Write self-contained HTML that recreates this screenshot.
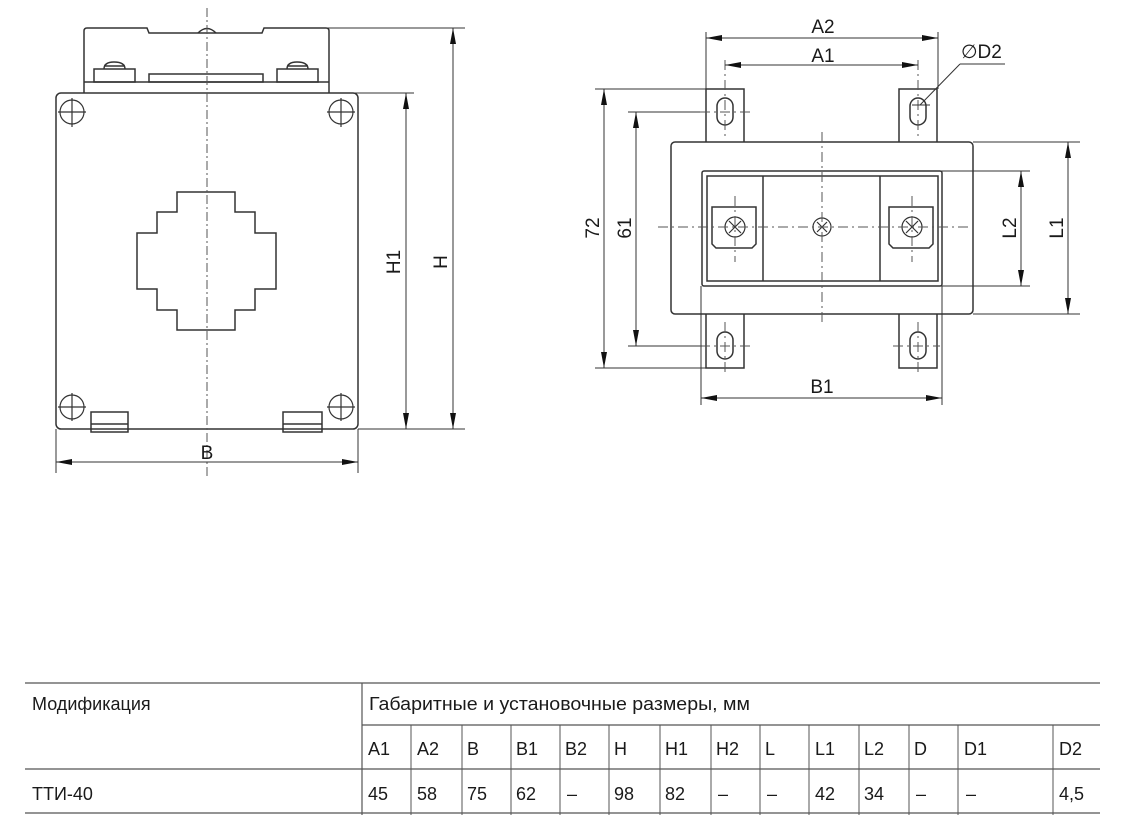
<!DOCTYPE html>
<html><head><meta charset="utf-8"><style>
html,body{margin:0;padding:0;background:#fff;}
svg{display:block;}
text{font-family:"Liberation Sans","DejaVu Sans",sans-serif;fill:#1a1a1a;}
</style></head><body>
<svg width="1123" height="835" viewBox="0 0 1123 835" xmlns="http://www.w3.org/2000/svg">
<defs>
<marker id="a" viewBox="0 0 16 6" refX="16" refY="3" markerWidth="16" markerHeight="6" markerUnits="userSpaceOnUse" orient="auto-start-reverse"><path d="M0,0 L16,3 L0,6 z" fill="#111"/></marker>
</defs>
<g fill="none" stroke="#333" stroke-width="1.5">
<!-- LEFT VIEW -->
<path d="M84,93 L84,31 Q84,28 87,28 L147,28 L149,33 L262,33 L264,28 L326,28 Q329,28 329,31 L329,93"/>
<line x1="84" y1="82" x2="329" y2="82"/>
<path d="M198,33 Q207,24 216,33"/>
<rect x="94" y="69" width="41" height="13"/>
<rect x="277" y="69" width="41" height="13"/>
<rect x="149" y="74" width="114" height="8"/>
<path d="M104,69 Q104,62 114,62 Q125,62 125,69 M104,66 L125,66"/>
<path d="M287,69 Q287,62 297,62 Q308,62 308,69 M287,66 L308,66"/>
<rect x="56" y="93" width="302" height="336" rx="5"/>
<path d="M177,192 H235 V212 H255 V233 H276 V289 H255 V310 H235 V330 H177 V310 H157 V289 H137 V233 H157 V212 H177 Z"/>
<rect x="91" y="412" width="37" height="20"/><line x1="91" y1="424" x2="128" y2="424"/>
<rect x="283" y="412" width="39" height="20"/><line x1="283" y1="424" x2="322" y2="424"/>
</g>
<g fill="none" stroke="#333" stroke-width="1.2">
<circle cx="72" cy="112" r="12"/><circle cx="341" cy="112" r="12"/><circle cx="72" cy="407" r="12"/><circle cx="341" cy="407" r="12"/>
<path d="M58,112 H86 M72,98 V127 M327,112 H355 M341,98 V127 M58,407 H86 M72,393 V421 M327,407 H355 M341,393 V421"/>
</g>
<line x1="207" y1="8" x2="207" y2="478" stroke="#555" stroke-width="1" stroke-dasharray="9,3,2,3"/>
<g stroke="#333" stroke-width="1" fill="none">
<line x1="323" y1="28" x2="465" y2="28"/>
<line x1="353" y1="93" x2="414" y2="93"/>
<line x1="358" y1="429" x2="465" y2="429"/>
<line x1="406" y1="93" x2="406" y2="429" marker-start="url(#a)" marker-end="url(#a)"/>
<line x1="453" y1="28" x2="453" y2="429" marker-start="url(#a)" marker-end="url(#a)"/>
<line x1="56" y1="429" x2="56" y2="473"/><line x1="358" y1="429" x2="358" y2="473"/>
<line x1="56" y1="462" x2="358" y2="462" marker-start="url(#a)" marker-end="url(#a)"/>
</g>
<text x="207" y="459" font-size="19" text-anchor="middle">B</text>
<text transform="translate(400,262) rotate(-90)" font-size="19" text-anchor="middle">H1</text>
<text transform="translate(447,262) rotate(-90)" font-size="19" text-anchor="middle">H</text>

<!-- RIGHT VIEW -->
<g fill="none" stroke="#333" stroke-width="1.5">
<path d="M706,142 V89 H744 V142 M899,142 V89 H937 V142"/>
<path d="M706,314 V368 H744 V314 M899,314 V368 H937 V314"/>
<rect x="717" y="98" width="16" height="27" rx="8"/>
<rect x="910" y="98" width="16" height="27" rx="8"/>
<rect x="717" y="332" width="16" height="27" rx="8"/>
<rect x="910" y="332" width="16" height="27" rx="8"/>
<rect x="671" y="142" width="302" height="172" rx="4"/>
<rect x="702" y="171" width="240" height="115" rx="2"/>
<rect x="707" y="176" width="231" height="105"/>
<line x1="763" y1="176" x2="763" y2="281"/><line x1="880" y1="176" x2="880" y2="281"/>
<path d="M712,207 H756 V244 L752,248 H716 L712,244 Z"/>
<path d="M889,207 H933 V244 L929,248 H893 L889,244 Z"/>
</g>
<g fill="none" stroke="#333" stroke-width="1.2">
<circle cx="735" cy="227" r="10"/><circle cx="822" cy="227" r="9"/><circle cx="912" cy="227" r="10"/>
<path d="M729,221 L741,233 M741,221 L729,233 M817,222 L827,232 M827,222 L817,232 M906,221 L918,233 M918,221 L906,233"/>
</g>
<g stroke="#555" stroke-width="1" stroke-dasharray="10,4,2,4" fill="none">
<line x1="658" y1="227" x2="972" y2="227"/>
<line x1="822" y1="132" x2="822" y2="322"/>
<line x1="735" y1="196" x2="735" y2="262"/><line x1="912" y1="196" x2="912" y2="262"/>
<line x1="725" y1="60" x2="725" y2="140"/><line x1="918" y1="60" x2="918" y2="140"/>
<line x1="725" y1="322" x2="725" y2="372"/><line x1="918" y1="322" x2="918" y2="372"/>
<line x1="700" y1="112" x2="750" y2="112"/><line x1="700" y1="346" x2="752" y2="346"/><line x1="893" y1="346" x2="940" y2="346"/>
</g>
<g stroke="#333" stroke-width="1" fill="none">
<line x1="706" y1="32" x2="706" y2="89"/><line x1="938" y1="32" x2="938" y2="89"/>
<line x1="706" y1="38" x2="938" y2="38" marker-start="url(#a)" marker-end="url(#a)"/>
<line x1="725" y1="65" x2="918" y2="65" marker-start="url(#a)" marker-end="url(#a)"/>
<line x1="1005" y1="64" x2="960" y2="64"/><line x1="960" y1="64" x2="920" y2="105"/>
<line x1="912" y1="105" x2="930" y2="105"/>
<line x1="595" y1="89" x2="706" y2="89"/><line x1="595" y1="368" x2="706" y2="368"/>
<line x1="604" y1="89" x2="604" y2="368" marker-start="url(#a)" marker-end="url(#a)"/>
<line x1="628" y1="112" x2="700" y2="112"/><line x1="628" y1="346" x2="700" y2="346"/>
<line x1="636" y1="112" x2="636" y2="346" marker-start="url(#a)" marker-end="url(#a)"/>
<line x1="930" y1="171" x2="1030" y2="171"/><line x1="930" y1="286" x2="1030" y2="286"/>
<line x1="1021" y1="171" x2="1021" y2="286" marker-start="url(#a)" marker-end="url(#a)"/>
<line x1="973" y1="142" x2="1080" y2="142"/><line x1="973" y1="314" x2="1080" y2="314"/>
<line x1="1068" y1="142" x2="1068" y2="314" marker-start="url(#a)" marker-end="url(#a)"/>
<line x1="701" y1="286" x2="701" y2="405"/><line x1="942" y1="286" x2="942" y2="405"/>
<line x1="701" y1="398" x2="942" y2="398" marker-start="url(#a)" marker-end="url(#a)"/>
</g>
<text x="823" y="33" font-size="19" text-anchor="middle">A2</text>
<text x="823" y="62" font-size="19" text-anchor="middle">A1</text>
<text x="961" y="58" font-size="19">∅D2</text>
<text x="822" y="393" font-size="19" text-anchor="middle">B1</text>
<text transform="translate(599,228) rotate(-90)" font-size="19" text-anchor="middle">72</text>
<text transform="translate(631,228) rotate(-90)" font-size="19" text-anchor="middle">61</text>
<text transform="translate(1016,228) rotate(-90)" font-size="19" text-anchor="middle">L2</text>
<text transform="translate(1063,228) rotate(-90)" font-size="19" text-anchor="middle">L1</text>

<!-- TABLE -->
<g stroke="#555" stroke-width="1.2">
<line x1="25" y1="683" x2="1100" y2="683"/>
<line x1="362" y1="725" x2="1100" y2="725"/>
<line x1="25" y1="769" x2="1100" y2="769"/>
<line x1="25" y1="813" x2="1100" y2="813"/>
<line x1="362" y1="683" x2="362" y2="815"/>
<g stroke-width="1"><line x1="411" y1="725" x2="411" y2="815"/><line x1="462" y1="725" x2="462" y2="815"/><line x1="511" y1="725" x2="511" y2="815"/><line x1="560" y1="725" x2="560" y2="815"/><line x1="609" y1="725" x2="609" y2="815"/><line x1="660" y1="725" x2="660" y2="815"/><line x1="711" y1="725" x2="711" y2="815"/><line x1="760" y1="725" x2="760" y2="815"/><line x1="809" y1="725" x2="809" y2="815"/><line x1="859" y1="725" x2="859" y2="815"/><line x1="909" y1="725" x2="909" y2="815"/><line x1="958" y1="725" x2="958" y2="815"/><line x1="1053" y1="725" x2="1053" y2="815"/></g>
</g>
<g font-size="18">
<text x="32" y="710">Модификация</text>
<text x="369" y="710" textLength="381" lengthAdjust="spacingAndGlyphs">Габаритные и установочные размеры, мм</text>
<text x="368" y="755">A1</text><text x="417" y="755">A2</text><text x="467" y="755">B</text><text x="516" y="755">B1</text><text x="565" y="755">B2</text><text x="614" y="755">H</text><text x="665" y="755">H1</text><text x="716" y="755">H2</text><text x="765" y="755">L</text><text x="815" y="755">L1</text><text x="864" y="755">L2</text><text x="914" y="755">D</text><text x="964" y="755">D1</text><text x="1059" y="755">D2</text>
<text x="32" y="800">ТТИ-40</text>
<text x="368" y="800">45</text><text x="417" y="800">58</text><text x="467" y="800">75</text><text x="516" y="800">62</text><text x="567" y="800">–</text><text x="614" y="800">98</text><text x="665" y="800">82</text><text x="718" y="800">–</text><text x="767" y="800">–</text><text x="815" y="800">42</text><text x="864" y="800">34</text><text x="916" y="800">–</text><text x="966" y="800">–</text><text x="1059" y="800">4,5</text>
</g>
</svg>
</body></html>
